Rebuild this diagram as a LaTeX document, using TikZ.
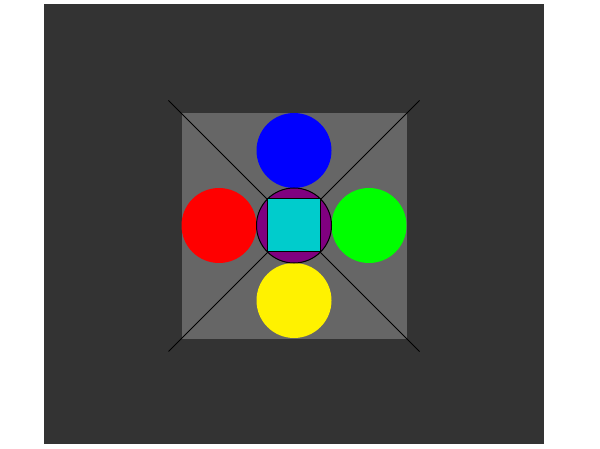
\documentclass[tikz,border=0pt]{standalone}
\definecolor{bgdark}{HTML}{333333}
\definecolor{bginner}{HTML}{666666}
\definecolor{cyanbox}{HTML}{00CCCC}
\definecolor{purp}{HTML}{800080}
\begin{document}
\begin{tikzpicture}[x=1pt,y=-1pt,
  disc/.style={circle,minimum size=75pt,inner sep=0pt,draw=none},
  diag/.style={draw=black,line width=1pt}]
\useasboundingbox (0,0) rectangle (600,449);
\fill[white] (0,0) rectangle (600,449);
\fill[bgdark] (44,4) rectangle (544,444);
\fill[bginner] (181.5,113) rectangle (406.5,338.5);
\coordinate (tl) at (168.5,100.5);
\coordinate (br) at (419.5,351.5);
\coordinate (tr) at (419.5,100.5);
\coordinate (bl) at (168.5,351.5);
\draw[diag] (tl) -- (br);
\draw[diag] (tr) -- (bl);
\node[disc,fill=blue] (blue) at (294,150.5) {};
\node[disc,fill=red] (red) at (219,225.5) {};
\node[disc,fill=green] (green) at (369,225.5) {};
\node[disc,fill=yellow] (yellow) at (294,300.5) {};
\node[disc,fill=purp,draw=black,line width=1pt] (center) at (294,225.5) {};
\node[rectangle,minimum size=53pt,inner sep=0pt,fill=cyanbox,draw=black,line width=1pt] (box) at (294,225.5) {};
\end{tikzpicture}
\end{document}
